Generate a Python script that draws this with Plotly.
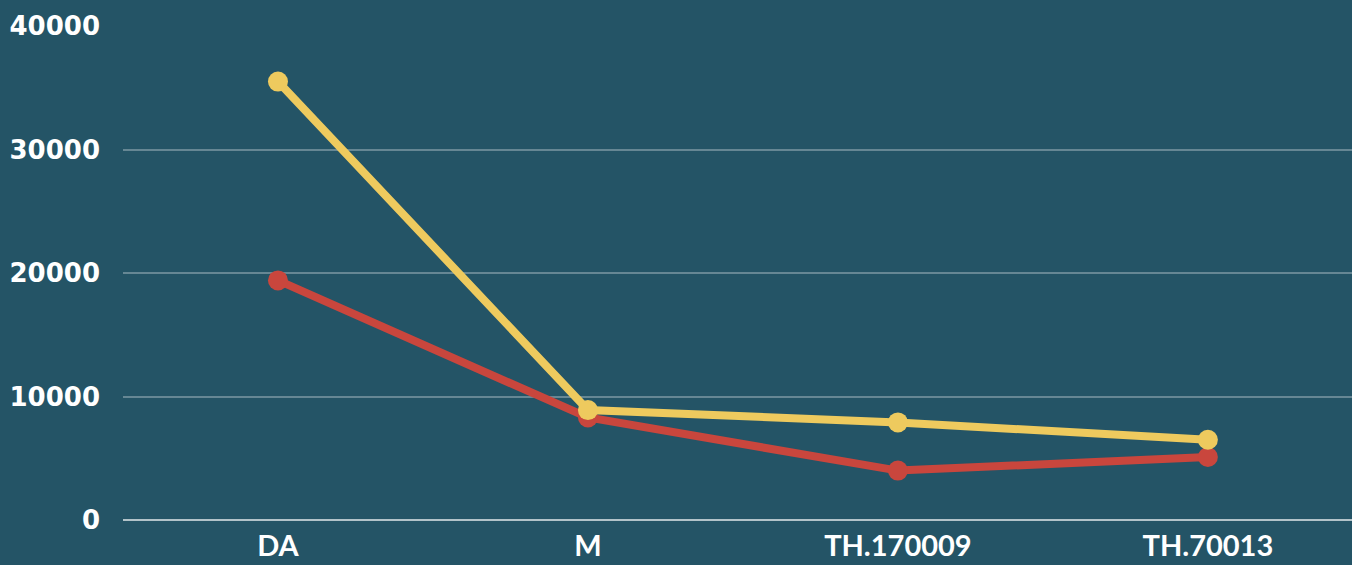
import plotly.graph_objects as go

categories = ["DA", "M", "TH.170009", "TH.70013"]
series_yellow = [35500, 8900, 7900, 6500]
series_red = [19400, 8300, 4000, 5100]
y_ticks = [0, 10000, 20000, 30000, 40000]

bg = "#245466"

fig = go.Figure()
fig.add_trace(go.Scatter(
    x=categories, y=series_red, mode="lines+markers",
    line=dict(color="#C9463D", width=8),
    marker=dict(color="#C9463D", size=20),
    showlegend=False,
))
fig.add_trace(go.Scatter(
    x=categories, y=series_yellow, mode="lines+markers",
    line=dict(color="#EECA5E", width=8),
    marker=dict(color="#EECA5E", size=20),
    showlegend=False,
))

fig.update_layout(
    width=1352, height=565,
    margin=dict(l=123, r=0, t=26, b=45),
    paper_bgcolor=bg, plot_bgcolor=bg,
    font=dict(color="white"),
    xaxis=dict(
        type="category", range=[-0.5, 3.465],
        showgrid=False, zeroline=False, showline=False,
        ticks="", tickfont=dict(size=29, family="Lato", weight="bold", color="white"),
        ticklabelstandoff=6,
    ),
    yaxis=dict(
        range=[0, 40000], tickvals=y_ticks,
        ticktext=[str(v) for v in y_ticks],
        showgrid=True, gridcolor="rgba(255,255,255,0.3)", gridwidth=1.5,
        zeroline=True, zerolinecolor="rgba(255,255,255,0.65)", zerolinewidth=2,
        ticks="", ticklabelstandoff=22,
        tickfont=dict(size=26, family="DejaVu Sans", weight="bold", color="white"),
    ),
)

fig.write_html("out.html")
